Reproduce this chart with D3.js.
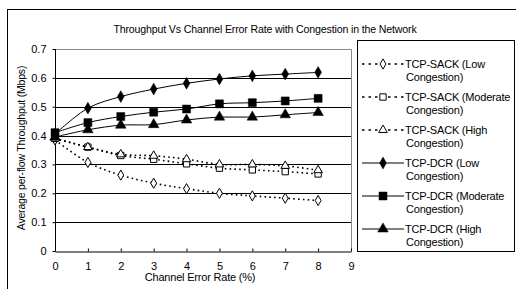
<!DOCTYPE html>
<html>
<head>
<meta charset="utf-8">
<script src="https://cdn.jsdelivr.net/npm/d3@7"></script>
<style>
  body { margin: 0; background: #fff; }
  svg { display: block; font-family: "Liberation Sans", Arial, sans-serif; }
</style>
</head>
<body>
<svg id="chart" width="516" height="289"></svg>
<script>
// error rate (%) on the x axis
const errorRates = [0, 1, 2, 3, 4, 5, 6, 7, 8];
const xTicks = [0, 1, 2, 3, 4, 5, 6, 7, 8, 9];
const yTicks = [0, 0.1, 0.2, 0.3, 0.4, 0.5, 0.6, 0.7];

// throughput values (Mbps)
const sackLow = [0.385, 0.307, 0.263, 0.235, 0.216, 0.2, 0.191, 0.183, 0.175];
const sackModerate = [0.39, 0.36, 0.331, 0.318, 0.302, 0.287, 0.281, 0.275, 0.267];
const sackHigh = [0.39, 0.36, 0.335, 0.33, 0.318, 0.3, 0.3, 0.295, 0.28];
const dcrLow = [0.405, 0.495, 0.535, 0.561, 0.581, 0.596, 0.607, 0.613, 0.619];
const dcrModerate = [0.41, 0.445, 0.466, 0.481, 0.492, 0.51, 0.514, 0.52, 0.529];
const dcrHigh = [0.395, 0.42, 0.436, 0.438, 0.454, 0.464, 0.464, 0.472, 0.48];

const seriesNames = [
  ["TCP-SACK (Low", "Congestion)"],
  ["TCP-SACK (Moderate", "Congestion)"],
  ["TCP-SACK (High", "Congestion)"],
  ["TCP-DCR (Low", "Congestion)"],
  ["TCP-DCR (Moderate", "Congestion)"],
  ["TCP-DCR (High", "Congestion)"]
];

const series = [
  { values: sackLow, dotted: true, symbol: d3.symbolDiamond, size: 30, filled: false },
  { values: sackModerate, dotted: true, symbol: d3.symbolSquare, size: 40, filled: false },
  { values: sackHigh, dotted: true, symbol: d3.symbolTriangle, size: 32, filled: false },
  { values: dcrLow, dotted: false, symbol: d3.symbolDiamond, size: 40, filled: true },
  { values: dcrModerate, dotted: false, symbol: d3.symbolSquare, size: 64, filled: true },
  { values: dcrHigh, dotted: false, symbol: d3.symbolTriangle, size: 48, filled: true }
];

const svg = d3.select("#chart");

// outer chart border (runs past the right and bottom edge)
svg.append("rect")
  .attr("x", 7.5).attr("y", 9.5)
  .attr("width", 520).attr("height", 300)
  .attr("fill", "#fff").attr("stroke", "#000");

// title
svg.append("text")
  .attr("x", 265).attr("y", 33)
  .attr("text-anchor", "middle")
  .style("font-size", "10.6px")
  .style("letter-spacing", "-0.15px")
  .text("Throughput Vs Channel Error Rate with Congestion in the Network");

const plotLeft = 55, plotRight = 351, plotTop = 49, plotBottom = 251;

const x = d3.scaleLinear().domain([0, 9]).range([plotLeft, plotRight]);
const y = d3.scaleLinear().domain([0, 0.7]).range([plotBottom, plotTop]);

// grid lines
svg.append("g")
  .selectAll("line")
  .data(yTicks.filter((d) => d > 0 && d < 0.7))
  .join("line")
  .attr("x1", plotLeft).attr("x2", plotRight)
  .attr("y1", (d) => Math.round(y(d)) + 0.5)
  .attr("y2", (d) => Math.round(y(d)) + 0.5)
  .attr("stroke", "#000");

// plot area border top and right (gray)
svg.append("path")
  .attr("d", `M${plotLeft},${plotTop + 0.5}H${plotRight + 0.5}V${plotBottom}`)
  .attr("fill", "none")
  .attr("stroke", "#888");

// y axis
const yAxis = svg.append("g")
  .attr("transform", `translate(${plotLeft + 0.5},0)`)
  .call(d3.axisLeft(y).tickValues(yTicks).tickSize(3).tickPadding(6)
    .tickFormat((d) => (d === 0 ? "0" : d3.format(".1f")(d))));
yAxis.select(".domain").attr("d", `M0,${plotTop}V${plotBottom}`);
yAxis.selectAll("text").style("font-size", "11px").style("font-family", "Liberation Sans, Arial");

// x axis
const xAxis = svg.append("g")
  .attr("transform", `translate(0,${plotBottom + 0.5})`)
  .call(d3.axisBottom(x).tickValues(xTicks).tickSize(3).tickPadding(8)
    .tickSizeOuter(0).tickFormat(d3.format("d")));
xAxis.selectAll("text").style("font-size", "11px").style("font-family", "Liberation Sans, Arial");
xAxis.selectAll(".tick line").attr("y1", -3).attr("y2", 0);

// axis titles
svg.append("text")
  .attr("x", 200).attr("y", 281)
  .attr("text-anchor", "middle")
  .style("font-size", "11px")
  .style("letter-spacing", "-0.2px")
  .text("Channel Error Rate (%)");

svg.append("text")
  .attr("transform", "translate(25,148) rotate(-90)")
  .attr("text-anchor", "middle")
  .style("font-size", "10.5px")
  .style("letter-spacing", "-0.2px")
  .text("Average per-flow Throughput (Mbps)");

const line = d3.line()
  .x((d, i) => x(errorRates[i]))
  .y((d) => y(d))
  .curve(d3.curveCatmullRom.alpha(0.5));

const plot = svg.append("g");

series.forEach((s) => {
  plot.append("path")
    .datum(s.values)
    .attr("d", line)
    .attr("fill", "none")
    .attr("stroke", "#000")
    .attr("stroke-width", s.dotted ? 1.6 : 1)
    .attr("stroke-dasharray", s.dotted ? "1.6,3.2" : null);
});

series.forEach((s) => {
  plot.selectAll(null)
    .data(s.values)
    .join("path")
    .attr("transform", (d, i) => `translate(${x(errorRates[i])},${y(d)})`)
    .attr("d", d3.symbol().type(s.symbol).size(s.size))
    .attr("fill", s.filled ? "#000" : "#fff")
    .attr("stroke", "#000")
    .attr("stroke-width", s.filled ? 0.5 : 1);
});

// legend
const legend = svg.append("g");
legend.append("rect")
  .attr("x", 357.5).attr("y", 40.5)
  .attr("width", 157).attr("height", 211)
  .attr("fill", "#fff").attr("stroke", "#000");

const rowStep = 33;
seriesNames.forEach((name, i) => {
  const s = series[i];
  const cy = 64 + i * rowStep;
  legend.append("line")
    .attr("x1", 362).attr("x2", 404)
    .attr("y1", cy).attr("y2", cy)
    .attr("stroke", "#000")
    .attr("stroke-width", s.dotted ? 1.6 : 1)
    .attr("stroke-dasharray", s.dotted ? "2.5,4" : null);
  legend.append("path")
    .attr("transform", `translate(383,${cy})`)
    .attr("d", d3.symbol().type(s.symbol).size(s.size))
    .attr("fill", s.filled ? "#000" : "#fff")
    .attr("stroke", "#000")
    .attr("stroke-width", s.filled ? 0.5 : 1);
  legend.append("text")
    .attr("x", 405).attr("y", cy + 4)
    .style("font-size", "11px")
    .style("letter-spacing", "-0.2px")
    .text(name[0]);
  legend.append("text")
    .attr("x", 406).attr("y", cy + 17)
    .style("font-size", "11px")
    .style("letter-spacing", "-0.2px")
    .text(name[1]);
});
</script>
</body>
</html>
